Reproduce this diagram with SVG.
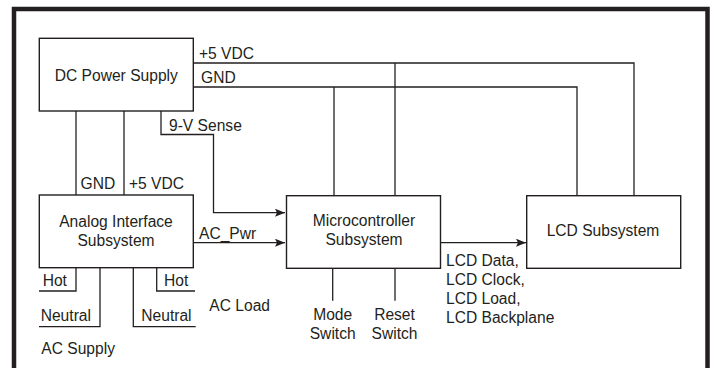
<svg xmlns="http://www.w3.org/2000/svg" width="710" height="368" viewBox="0 0 710 368">
<style>
.box{fill:#fff;stroke:#231f20;stroke-width:1.4}
.ln{fill:none;stroke:#231f20;stroke-width:1.3}
text{font-family:"Liberation Sans",Arial,Helvetica,sans-serif;font-size:15.6px;fill:#231f20}
.c{text-anchor:middle}
</style>
<defs>
<marker id="arr" viewBox="0 0 10 8" refX="10" refY="4" markerWidth="10" markerHeight="8" markerUnits="userSpaceOnUse" orient="auto">
<path d="M0,0 L10,4 L0,8 L2,4 Z" fill="#231f20"/>
</marker>
</defs>
<rect x="0" y="0" width="710" height="368" fill="#fff"/>
<rect x="14" y="9" width="693.5" height="380" fill="none" stroke="#231f20" stroke-width="4.5"/>
<g id="connectors">
<polyline class="ln" points="193,63 634,63 634,196"/>
<polyline class="ln" points="193,87 577,87 577,196"/>
<line class="ln" x1="395" y1="63" x2="395" y2="196"/>
<line class="ln" x1="334" y1="87" x2="334" y2="196"/>
<line class="ln" x1="76" y1="111" x2="76" y2="195"/>
<line class="ln" x1="124" y1="111" x2="124" y2="195"/>
<polyline class="ln" points="161,111 161,134.5 213.5,134.5 213.5,212.7 285,212.7" marker-end="url(#arr)"/>
<line class="ln" x1="193" y1="242.7" x2="285" y2="242.7" marker-end="url(#arr)"/>
<line class="ln" x1="441" y1="242.7" x2="526" y2="242.7" marker-end="url(#arr)"/>
<polyline class="ln" points="76,268 76,291 39,291"/>
<polyline class="ln" points="100,268 100,326.7 39,326.7"/>
<polyline class="ln" points="133.3,268 133.3,326.7 195.7,326.7"/>
<polyline class="ln" points="156.7,268 156.7,291 195,291"/>
<line class="ln" x1="332.7" y1="268" x2="332.7" y2="300.7"/>
<line class="ln" x1="395" y1="268" x2="395" y2="300.7"/>
</g>
<g id="dc-power-supply">
<rect class="box" x="39.3" y="38.3" width="154" height="72.7"/>
<text class="c" x="116.3" y="81">DC Power Supply</text>
</g>
<g id="analog-interface">
<rect class="box" x="39.3" y="195" width="154" height="72.7"/>
<text class="c" x="116" y="226.7">Analog Interface</text>
<text class="c" x="116" y="245.7">Subsystem</text>
</g>
<g id="microcontroller">
<rect class="box" x="286.5" y="195.7" width="154" height="72.6"/>
<text class="c" x="364" y="225.7">Microcontroller</text>
<text class="c" x="364" y="245">Subsystem</text>
</g>
<g id="lcd-subsystem">
<rect class="box" x="526.7" y="195.7" width="154" height="72.6"/>
<text class="c" x="603" y="236">LCD Subsystem</text>
</g>
<g id="labels">
<text x="199" y="59">+5 VDC</text>
<text x="201" y="82.7">GND</text>
<text x="169" y="130.7">9-V Sense</text>
<text x="80.5" y="189">GND</text>
<text x="129" y="189">+5 VDC</text>
<text x="199" y="239.3">AC_Pwr</text>
<text x="42.7" y="286">Hot</text>
<text x="164" y="286">Hot</text>
<text x="40.7" y="321">Neutral</text>
<text x="141.3" y="321">Neutral</text>
<text x="209.3" y="310.7">AC Load</text>
<text x="41.3" y="354.3">AC Supply</text>
<text class="c" x="332.7" y="320">Mode</text>
<text class="c" x="332.7" y="339.3">Switch</text>
<text class="c" x="394.5" y="320">Reset</text>
<text class="c" x="394.5" y="339.3">Switch</text>
<text x="446" y="265.7">LCD Data,</text>
<text x="446" y="284.5">LCD Clock,</text>
<text x="446" y="304">LCD Load,</text>
<text x="446" y="323.3">LCD Backplane</text>
</g>
</svg>
